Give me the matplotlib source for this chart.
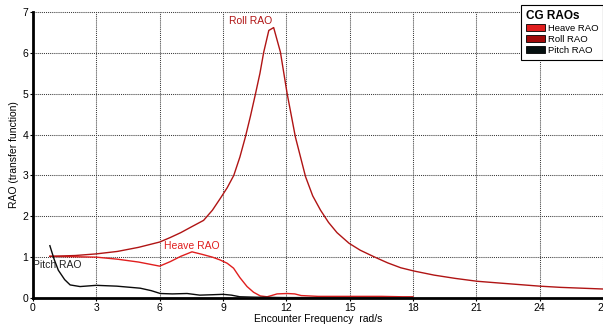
import matplotlib
matplotlib.use("Agg")
from matplotlib import pyplot as plt
from matplotlib.patches import Patch

plt.rcParams['font.family'] = ['Liberation Sans', 'DejaVu Sans']

# values
roll_w = [0.8, 2.0, 3.0, 4.0, 5.0, 6.0, 6.5, 7.0, 7.5, 8.08, 8.5, 8.875, 9.2, 9.51, 9.8, 10.06, 10.3,
          10.54, 10.75, 10.93, 11.17, 11.4, 11.72, 12.04, 12.43, 12.91, 13.25, 13.62, 14.0, 14.4,
          14.97, 15.5, 16.15, 16.8, 17.42, 18.05, 19.0, 20.0, 21.03, 22.0, 23.0, 24.0, 25.0, 26.0, 27.0]
roll_rao = [1.02, 1.04, 1.08, 1.14, 1.24, 1.37, 1.48, 1.6, 1.74, 1.9, 2.15, 2.44, 2.7, 3.0, 3.45, 3.94,
            4.45, 5.0, 5.5, 6.02, 6.55, 6.62, 6.02, 5.0, 3.94, 2.97, 2.5, 2.15, 1.85, 1.6,
            1.34, 1.17, 1.01, 0.86, 0.74, 0.66, 0.56, 0.48, 0.41, 0.37, 0.33, 0.29, 0.26, 0.24, 0.22]

heave_w = [0.8, 2.0, 3.0, 4.0, 5.0, 5.5, 6.0, 6.5, 7.0, 7.53, 8.0, 8.5, 8.87, 9.2, 9.5, 9.8, 10.14,
           10.45, 10.77, 11.09, 11.3, 11.56, 12.04, 12.4, 12.7, 13.5, 15.0, 16.5, 17.5, 18.0]
heave_rao = [1.02, 1.01, 1.0, 0.95, 0.88, 0.83, 0.78, 0.89, 1.02, 1.13, 1.07, 1.0, 0.93, 0.85, 0.73,
             0.5, 0.28, 0.14, 0.05, 0.03, 0.06, 0.1, 0.11, 0.1, 0.06, 0.04, 0.04, 0.04, 0.03, 0.03]

pitch_w = [0.8, 1.0, 1.2, 1.5, 1.76, 2.23, 3.0, 3.97, 5.08, 5.6, 6.03, 6.6, 7.3, 7.9, 8.5, 9.0,
           9.4, 9.8, 10.5, 12.0, 15.0, 18.0]
pitch_rao = [1.28, 0.95, 0.68, 0.45, 0.32, 0.28, 0.31, 0.29, 0.24, 0.18, 0.11, 0.1, 0.11, 0.07,
             0.08, 0.09, 0.07, 0.03, 0.02, 0.01, 0.01, 0.01]

x_ticks = [0, 3, 6, 9, 12, 15, 18, 21, 24, 27]
y_ticks = [0, 1, 2, 3, 4, 5, 6, 7]

heave_col = '#e01e1e'
roll_col = '#b01414'
pitch_col = '#0a0a0a'

fig = plt.figure(figsize=(6.03, 3.26), dpi=100)
ax = fig.add_axes([0.0547, 0.0859, 0.9453, 0.8771])

ax.set_xlim(0, 27)
ax.set_ylim(0, 7)

# dotted grid
for xv in x_ticks[1:]:
    ax.plot([xv, xv], [0, 7], color='#3a3a3a', linestyle=(0, (1, 1)), linewidth=0.75,
            zorder=1.5, clip_on=False)
for yv in y_ticks[1:]:
    ax.plot([0, 27], [yv, yv], color='#3a3a3a', linestyle=(0, (1, 1)), linewidth=0.75,
            zorder=1.5, clip_on=False)

ax.plot(heave_w, heave_rao, color=heave_col, lw=1.0, zorder=3)
ax.plot(roll_w, roll_rao, color=roll_col, lw=1.0, zorder=3)
ax.plot(pitch_w, pitch_rao, color=pitch_col, lw=1.0, zorder=3)

ax.text(10.3, 6.77, 'Roll RAO', color=roll_col, fontsize=7.5, ha='center', va='center')
ax.text(7.5, 1.27, 'Heave RAO', color=heave_col, fontsize=7.5, ha='center', va='center')
ax.text(0.0, 0.8, 'Pitch RAO', color='#222222', fontsize=7.5, ha='left', va='center')

ax.set_xticks(x_ticks)
ax.set_yticks(y_ticks)
ax.tick_params(labelsize=7.5, length=2, pad=1.5)

for s in ['top', 'right']:
    ax.spines[s].set_visible(False)
ax.spines['left'].set_linewidth(2)
ax.spines['bottom'].set_linewidth(2)

ax.set_xlabel('Encounter Frequency  rad/s', fontsize=7.5, labelpad=1)
ax.set_ylabel('RAO (transfer function)', fontsize=7.5, labelpad=2)

handles = [Patch(facecolor=heave_col, edgecolor='black', lw=0.6, label='Heave RAO'),
           Patch(facecolor='#a00a0a', edgecolor='black', lw=0.6, label='Roll RAO'),
           Patch(facecolor='#051010', edgecolor='black', lw=0.6, label='Pitch RAO')]
leg = ax.legend(handles=handles, title='CG RAOs', loc='upper right', bbox_to_anchor=(1.0, 1.025),
                fontsize=6.8, title_fontproperties={'weight': 'bold', 'size': 8.5},
                fancybox=False, framealpha=1, edgecolor='black', handlelength=2.0, handleheight=0.9,
                handletextpad=0.3, borderpad=0.5, labelspacing=0.2, borderaxespad=0)
leg.get_frame().set_linewidth(0.8)
leg._legend_box.align = 'left'
leg.set_zorder(5)

fig.savefig('out.png', dpi=100)
